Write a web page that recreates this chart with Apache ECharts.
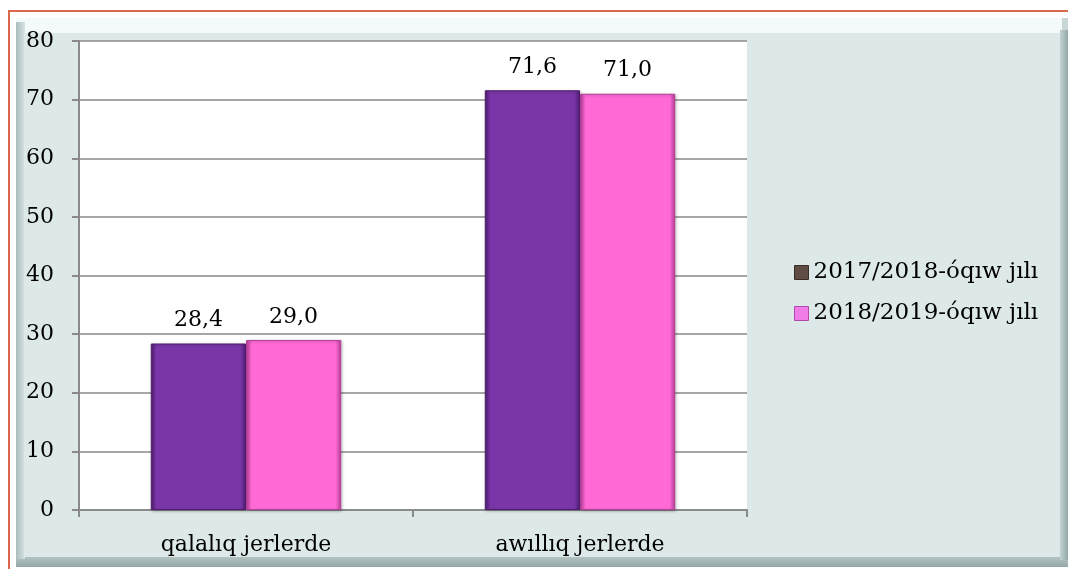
<!DOCTYPE html>
<html><head><meta charset="utf-8">
<script src="https://cdn.jsdelivr.net/npm/echarts@6/dist/echarts.min.js"></script>
<style>html,body{margin:0;padding:0;background:#fff}#c{width:1068px;height:569px}</style>
</head><body><div id="c"></div>
<script>
const categories = ['qalalıq jerlerde', 'awıllıq jerlerde'];
const seriesNames = ['2017/2018-óqıw jılı', '2018/2019-óqıw jılı'];
const values2017 = [28.4, 71.6];
const values2018 = [29.0, 71.0];
const yTicks = [0, 10, 20, 30, 40, 50, 60, 70, 80];

const FONT = 'DejaVu Serif';
const FS = 22;
const chart = echarts.init(document.getElementById('c'));

function barStyle(base, dark) {
  return {
    color: new echarts.graphic.LinearGradient(0, 0, 1, 0, [
      {offset: 0, color: dark}, {offset: 0.06, color: base},
      {offset: 0.94, color: base}, {offset: 1, color: dark}
    ]),
    borderColor: dark, borderWidth: 1,
    shadowColor: 'rgba(0,0,0,0.25)', shadowBlur: 3, shadowOffsetX: 1, shadowOffsetY: 1
  };
}
const lbl = {
  show: true, position: 'top', distance: 12, color: '#000', fontFamily: FONT, fontSize: FS,
  formatter: p => p.value.toFixed(1).replace('.', ',')
};

chart.setOption({
  animation: false,
  backgroundColor: '#ffffff',
  graphic: [
    {type: 'rect', shape: {x: 9, y: 11, width: 1062, height: 562}, style: {fill: '#ffffff', stroke: '#d9694a', lineWidth: 2}, z: -10},
    {type: 'rect', shape: {x: 16, y: 18, width: 1052, height: 549},
      style: {fill: new echarts.graphic.LinearGradient(0, 0, 0, 1, [{offset: 0.97, color: '#c8d6d6'}, {offset: 1, color: '#93a6a6'}])}, z: -9},
    {type: 'rect', shape: {x: 16, y: 18, width: 1046, height: 539}, style: {fill: '#f4fafa'}, z: -8},
    {type: 'rect', shape: {x: 16, y: 22, width: 9, height: 537},
      style: {fill: new echarts.graphic.LinearGradient(0, 0, 1, 0, [{offset: 0, color: '#a9bcbc'}, {offset: 1, color: '#d6e3e3'}])}, z: -8},
    {type: 'rect', shape: {x: 24, y: 33, width: 1036, height: 524}, style: {fill: '#dde9e9'}, z: -7},
    {type: 'rect', shape: {x: 1060, y: 30, width: 8, height: 530},
      style: {fill: new echarts.graphic.LinearGradient(0, 0, 1, 0, [{offset: 0, color: '#c3d2d2'}, {offset: 1, color: '#94a8a8'}])}, z: -7}
  ],
  legend: {
    orient: 'vertical', left: 789, top: 256, itemGap: 18, itemWidth: 14, itemHeight: 14,
    icon: 'rect',
    textStyle: {fontFamily: FONT, fontSize: 23, color: '#000'},
    data: [
      {name: seriesNames[0], itemStyle: {color: '#5e4c45', borderColor: '#3a2c27', borderWidth: 1}},
      {name: seriesNames[1], itemStyle: {color: '#f07ce8', borderColor: '#b04aa8', borderWidth: 1}}
    ]
  },
  grid: {left: 79, right: 1068 - 747, top: 41, bottom: 569 - 510, show: true, backgroundColor: '#ffffff', borderWidth: 0},
  xAxis: {
    type: 'category', data: categories,
    axisLine: {lineStyle: {color: '#8a8a8a', width: 2}},
    axisTick: {show: true, length: 7, lineStyle: {color: '#8a8a8a', width: 2}},
    axisLabel: {fontFamily: FONT, fontSize: FS, color: '#000', margin: 24}
  },
  yAxis: {
    type: 'value', min: 0, max: 80, interval: 10,
    axisLine: {show: true, lineStyle: {color: '#8a8a8a', width: 2}},
    axisTick: {show: true, length: 7, lineStyle: {color: '#8a8a8a', width: 2}},
    splitLine: {lineStyle: {color: '#8a8a8a', width: 1.5}},
    axisLabel: {fontFamily: FONT, fontSize: FS, color: '#000', margin: 25,
      formatter: v => yTicks.includes(v) ? String(v) : ''}
  },
  series: [
    {name: seriesNames[0], type: 'bar', data: values2017, barGap: '0%', barCategoryGap: '43%',
     itemStyle: barStyle('#7a36a8', '#4e1d70'), label: lbl},
    {name: seriesNames[1], type: 'bar', data: values2018, barGap: '0%', barCategoryGap: '43%',
     itemStyle: barStyle('#ff6ad6', '#b53e98'), label: lbl}
  ]
});
</script></body></html>
